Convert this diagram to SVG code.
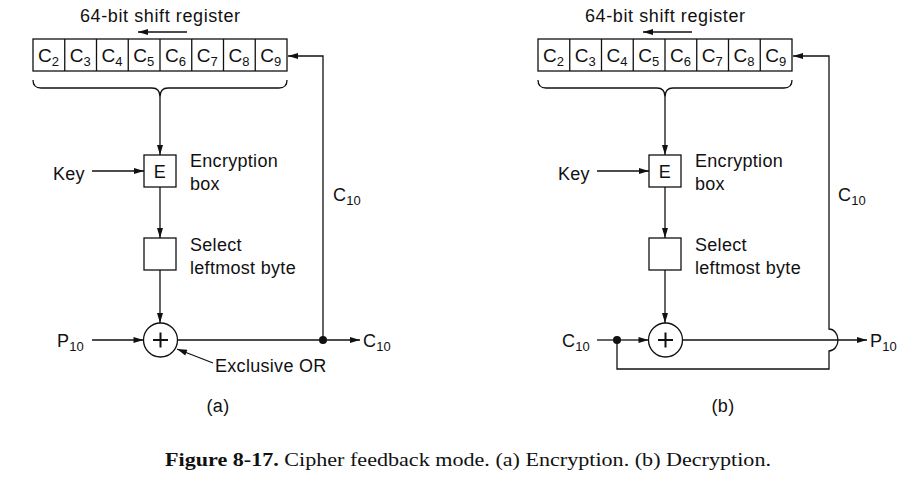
<svg xmlns="http://www.w3.org/2000/svg" width="923" height="485" viewBox="0 0 923 485">
<style>
text{font-family:"Liberation Sans",Arial,sans-serif;font-size:18px;fill:#111;letter-spacing:0.3px}
.sub{font-size:13px;letter-spacing:0}
.cell{font-size:19px;letter-spacing:0}
.cell .sub{font-size:13px}
.ttl{letter-spacing:0.6px}
.ln{fill:none;stroke:#111;stroke-width:1.3}
.arr{fill:none;stroke:#111;stroke-width:1.3;marker-end:url(#ah)}
.box{fill:#fff;stroke:#111;stroke-width:1.3}
.cap{font-family:"Liberation Serif","Times New Roman",serif;font-size:18px;letter-spacing:0}
.mid{text-anchor:middle}
</style>
<defs>
<marker id="ah" viewBox="0 0 10 6" refX="10" refY="3" markerWidth="11" markerHeight="6" markerUnits="userSpaceOnUse" orient="auto">
<path d="M0,0 L10,3 L0,6 Z" fill="#111"/>
</marker>
</defs>

<!-- ===== (a) Encryption ===== -->
<g id="a-register">
<text class="ttl" x="80" y="22">64-bit shift register</text>
<line class="arr" x1="187" y1="32" x2="138" y2="32"/>
<rect class="box" x="33" y="39" width="254" height="32"/>
<path class="ln" d="M64.75,39V71M96.5,39V71M128.25,39V71M160,39V71M191.75,39V71M223.5,39V71M255.25,39V71"/>
<text class="cell" x="38" y="62">C<tspan class="sub" dy="4">2</tspan></text>
<text class="cell" x="69.75" y="62">C<tspan class="sub" dy="4">3</tspan></text>
<text class="cell" x="101.5" y="62">C<tspan class="sub" dy="4">4</tspan></text>
<text class="cell" x="133.25" y="62">C<tspan class="sub" dy="4">5</tspan></text>
<text class="cell" x="165" y="62">C<tspan class="sub" dy="4">6</tspan></text>
<text class="cell" x="196.75" y="62">C<tspan class="sub" dy="4">7</tspan></text>
<text class="cell" x="228.5" y="62">C<tspan class="sub" dy="4">8</tspan></text>
<text class="cell" x="260.25" y="62">C<tspan class="sub" dy="4">9</tspan></text>
<path class="ln" d="M33,80 Q33,88 41,88 L152,88 Q160,88 160,97 Q160,88 168,88 L279,88 Q287,88 287,80"/>
</g>
<g id="a-key">
<text x="53" y="180">Key</text>
</g>
<g id="a-ebox">
<rect class="box" x="144" y="155" width="32" height="32"/>
<text class="mid" x="160" y="178">E</text>
<text x="190" y="167">Encryption</text>
<text x="190" y="190">box</text>
</g>
<g id="a-select">
<rect class="box" x="144" y="238" width="32" height="32"/>
<text x="190" y="251">Select</text>
<text x="190" y="274">leftmost byte</text>
</g>
<g id="a-xor">
<circle class="box" cx="160.5" cy="340" r="17"/>
<path d="M153,340H168M160.5,332.5V347.5" stroke="#111" stroke-width="2"/>
<text x="215" y="372">Exclusive OR</text>
</g>
<g id="a-p10"><text x="57" y="347">P<tspan class="sub" dy="4">10</tspan></text></g>
<g id="a-c10out"><text x="363" y="347">C<tspan class="sub" dy="4">10</tspan></text></g>
<g id="a-c10fb"><text x="333" y="201">C<tspan class="sub" dy="4">10</tspan></text></g>
<text class="mid" x="218" y="412">(a)</text>

<!-- ===== (b) Decryption ===== -->
<g id="b-register">
<text class="ttl" x="585" y="22">64-bit shift register</text>
<line class="arr" x1="692" y1="32" x2="643" y2="32"/>
<rect class="box" x="538" y="39" width="254" height="32"/>
<path class="ln" d="M569.75,39V71M601.5,39V71M633.25,39V71M665,39V71M696.75,39V71M728.5,39V71M760.25,39V71"/>
<text class="cell" x="543" y="62">C<tspan class="sub" dy="4">2</tspan></text>
<text class="cell" x="574.75" y="62">C<tspan class="sub" dy="4">3</tspan></text>
<text class="cell" x="606.5" y="62">C<tspan class="sub" dy="4">4</tspan></text>
<text class="cell" x="638.25" y="62">C<tspan class="sub" dy="4">5</tspan></text>
<text class="cell" x="670" y="62">C<tspan class="sub" dy="4">6</tspan></text>
<text class="cell" x="701.75" y="62">C<tspan class="sub" dy="4">7</tspan></text>
<text class="cell" x="733.5" y="62">C<tspan class="sub" dy="4">8</tspan></text>
<text class="cell" x="765.25" y="62">C<tspan class="sub" dy="4">9</tspan></text>
<path class="ln" d="M538,80 Q538,88 546,88 L657,88 Q665,88 665,97 Q665,88 673,88 L784,88 Q792,88 792,80"/>
</g>
<g id="b-key">
<text x="558" y="180">Key</text>
</g>
<g id="b-ebox">
<rect class="box" x="649" y="155" width="32" height="32"/>
<text class="mid" x="665" y="178">E</text>
<text x="695" y="167">Encryption</text>
<text x="695" y="190">box</text>
</g>
<g id="b-select">
<rect class="box" x="649" y="238" width="32" height="32"/>
<text x="695" y="251">Select</text>
<text x="695" y="274">leftmost byte</text>
</g>
<g id="b-xor">
<circle class="box" cx="665.5" cy="340" r="17"/>
<path d="M658,340H673M665.5,332.5V347.5" stroke="#111" stroke-width="2"/>
</g>
<g id="b-c10in"><text x="562" y="347">C<tspan class="sub" dy="4">10</tspan></text></g>
<g id="b-p10"><text x="870" y="347">P<tspan class="sub" dy="4">10</tspan></text></g>
<g id="b-c10fb"><text x="838" y="201">C<tspan class="sub" dy="4">10</tspan></text></g>
<text class="mid" x="723" y="412">(b)</text>

<!-- ===== connectors ===== -->
<g id="connectors">
<!-- (a) -->
<line class="arr" x1="160" y1="97" x2="160" y2="155"/>
<line class="arr" x1="92" y1="171" x2="144" y2="171"/>
<line class="arr" x1="160" y1="187" x2="160" y2="238"/>
<line class="arr" x1="160" y1="270" x2="160" y2="323"/>
<line class="arr" x1="92" y1="340" x2="143.5" y2="340"/>
<line class="arr" x1="177.5" y1="340" x2="360" y2="340"/>
<circle cx="323" cy="340" r="4" fill="#111"/>
<polyline class="arr" points="323,340 323,56 288,56"/>
<line class="arr" x1="213" y1="363" x2="177" y2="349"/>
<!-- (b) -->
<line class="arr" x1="665" y1="97" x2="665" y2="155"/>
<line class="arr" x1="597" y1="171" x2="649" y2="171"/>
<line class="arr" x1="665" y1="187" x2="665" y2="238"/>
<line class="arr" x1="665" y1="270" x2="665" y2="323"/>
<line class="ln" x1="597" y1="340" x2="617" y2="340"/>
<line class="arr" x1="617" y1="340" x2="648.5" y2="340"/>
<circle cx="617" cy="340" r="4" fill="#111"/>
<line class="arr" x1="682.5" y1="340" x2="867" y2="340"/>
<path class="arr" d="M617,340 V369 H829 V351 A9,11 0 0 0 829,329 V56 H793"/>
</g>

<!-- caption -->
<text class="cap" x="165" y="466" textLength="606" lengthAdjust="spacingAndGlyphs"><tspan font-weight="bold">Figure 8-17.</tspan>  Cipher feedback mode. (a) Encryption. (b) Decryption.</text>
</svg>
